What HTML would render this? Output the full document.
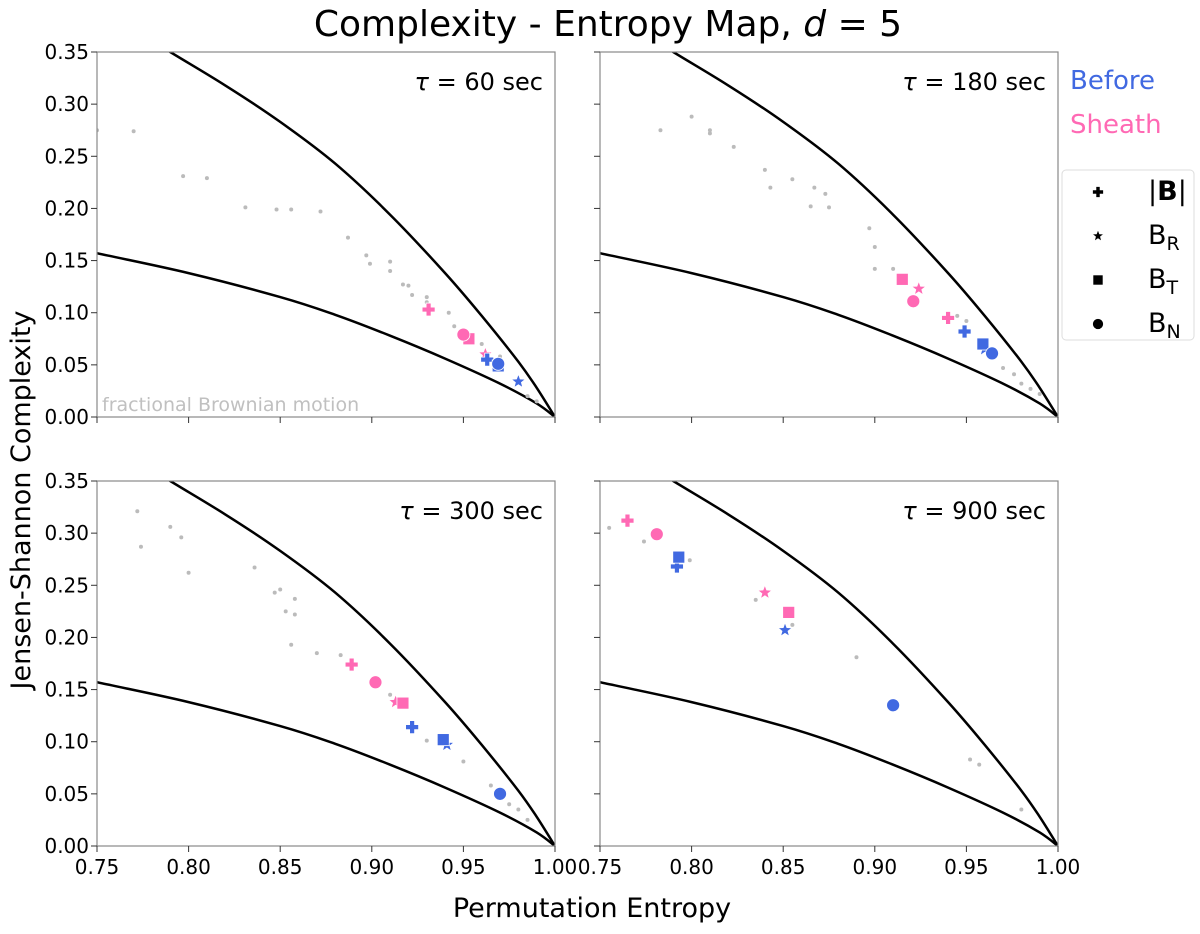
<!DOCTYPE html>
<html><head><meta charset="utf-8">
<style>
body{margin:0;background:#fff;}
svg text{font-family:"DejaVu Sans","Liberation Sans",sans-serif;}
</style></head>
<body>
<svg id="chart" width="1200" height="929" xmlns="http://www.w3.org/2000/svg">
<text x="608" y="36" font-size="36" text-anchor="middle">Complexity - Entropy Map, <tspan font-style="italic">d</tspan> = 5</text>
<text transform="translate(30,500) rotate(-90)" font-size="27" text-anchor="middle">Jensen-Shannon Complexity</text>
<text x="592" y="917" font-size="27" text-anchor="middle">Permutation Entropy</text>
<text x="1070" y="89" font-size="26" fill="#4169e1">Before</text>
<text x="1070" y="133" font-size="26" fill="#ff69b4">Sheath</text>
<g>
<rect x="1062" y="170" width="132" height="170" rx="4" fill="#fff" stroke="#ddd"/>
<g id="legmarks"></g>
<text x="1148" y="200" font-size="27">|<tspan font-weight="bold">B</tspan>|</text>
<text x="1148" y="244" font-size="27">B<tspan font-size="19" dy="6">R</tspan></text>
<text x="1148" y="288" font-size="27">B<tspan font-size="19" dy="6">T</tspan></text>
<text x="1148" y="332" font-size="27">B<tspan font-size="19" dy="6">N</tspan></text>
</g>
<g id="panels"></g>
</svg>
<script>
const xTicks=[0.75,0.80,0.85,0.90,0.95,1.00];
const yTicks=[0,0.05,0.10,0.15,0.20,0.25,0.30,0.35];
const upperH=[0.77,0.79,0.82,0.85,0.88,0.91,0.94,0.96,0.98,0.99,1.0];
const upperC=[0.372,0.35,0.318,0.283,0.243,0.194,0.138,0.097,0.053,0.028,0];
const lowerH=[0.75,0.80,0.85,0.88,0.91,0.94,0.97,0.99,1.0];
const lowerC=[0.157,0.138,0.115,0.098,0.078,0.056,0.032,0.013,0];
const tauLabels=["60","180","300","900"];
const gray1H=[.75,.77,.797,.81,.831,.848,.856,.872,.887,.897,.899,.91,.91,.917,.92,.922,.93,.93,.942,.945,.952,.96,.97,.985,.99];
const gray1C=[.275,.274,.231,.229,.201,.199,.199,.197,.172,.155,.147,.149,.14,.127,.126,.117,.115,.11,.1,.087,.075,.07,.058,.02,.015];
const gray2H=[.783,.80,.81,.81,.823,.84,.843,.855,.865,.867,.873,.875,.897,.9,.9,.91,.945,.95,.97,.976,.98,.985,.99];
const gray2C=[.275,.288,.272,.275,.259,.237,.22,.228,.202,.22,.214,.201,.181,.163,.142,.142,.097,.092,.047,.041,.032,.027,.022];
const gray3H=[.772,.774,.79,.796,.8,.836,.847,.85,.853,.858,.858,.856,.87,.883,.91,.93,.95,.965,.975,.98,.985];
const gray3C=[.321,.287,.306,.296,.262,.267,.243,.246,.225,.237,.222,.193,.185,.183,.145,.101,.081,.058,.04,.035,.025];
const gray4H=[.755,.774,.799,.835,.855,.89,.952,.957,.98];
const gray4C=[.305,.292,.274,.236,.212,.181,.083,.078,.035];
// order: plus, star, square, circle
const before1H=[.963,.980,.969,.969], before1C=[.055,.034,.049,.051];
const sheath1H=[.931,.962,.953,.950], sheath1C=[.103,.060,.075,.079];
const before2H=[.949,.960,.959,.964], before2C=[.082,.065,.070,.061];
const sheath2H=[.940,.924,.915,.921], sheath2C=[.095,.123,.132,.111];
const before3H=[.922,.941,.939,.970], before3C=[.114,.097,.102,.050];
const sheath3H=[.889,.913,.917,.902], sheath3C=[.174,.138,.137,.157];
const before4H=[.792,.851,.793,.910], before4C=[.268,.207,.277,.135];
const sheath4H=[.765,.840,.853,.781], sheath4C=[.312,.243,.224,.299];

const grays=[[gray1H,gray1C],[gray2H,gray2C],[gray3H,gray3C],[gray4H,gray4C]];
const befores=[[before1H,before1C],[before2H,before2C],[before3H,before3C],[before4H,before4C]];
const sheaths=[[sheath1H,sheath1C],[sheath2H,sheath2C],[sheath3H,sheath3C],[sheath4H,sheath4C]];
const markerNames=["plus","star","square","circle"];
const NS="http://www.w3.org/2000/svg";
const panelsG=document.getElementById('panels');
const boxes=[[97,52],[600,52],[97,481],[600,481]];
const W=458,H=365;
function mk(tag,attrs,parent){const e=document.createElementNS(NS,tag);for(const k in attrs)e.setAttribute(k,attrs[k]);parent.appendChild(e);return e;}
function smooth(pts){let d=`M${pts[0][0]},${pts[0][1]}`;for(let i=0;i<pts.length-1;i++){const p0=pts[Math.max(0,i-1)],p1=pts[i],p2=pts[i+1],p3=pts[Math.min(pts.length-1,i+2)];
  const c1x=p1[0]+(p2[0]-p0[0])/6,c1y=p1[1]+(p2[1]-p0[1])/6,c2x=p2[0]-(p3[0]-p1[0])/6,c2y=p2[1]-(p3[1]-p1[1])/6;
  d+=` C${c1x.toFixed(1)},${c1y.toFixed(1)} ${c2x.toFixed(1)},${c2y.toFixed(1)} ${p2[0].toFixed(1)},${p2[1].toFixed(1)}`;}return d;}
function starPts(cx,cy,R){let p=[];for(let i=0;i<10;i++){const r=i%2?R*0.42:R;const a=-Math.PI/2+i*Math.PI/5;p.push((cx+r*Math.cos(a)).toFixed(1)+","+(cy+r*Math.sin(a)).toFixed(1));}return p.join(" ");}
function marker(type,cx,cy,color,parent,s){
  s=s||1;let e;
  if(type==="plus"){e=mk('path',{d:`M${cx-2.5*s},${cy-6.5*s}h${5*s}v${4*s}h${4*s}v${5*s}h${-4*s}v${4*s}h${-5*s}v${-4*s}h${-4*s}v${-5*s}h${4*s}z`,fill:color,stroke:'#fff','stroke-width':0.8},parent);}
  else if(type==="star"){e=mk('polygon',{points:starPts(cx,cy,7.5*s),fill:color,stroke:'#fff','stroke-width':0.8},parent);}
  else if(type==="square"){e=mk('rect',{x:cx-6*s,y:cy-6*s,width:12*s,height:12*s,fill:color,stroke:'#fff','stroke-width':0.8},parent);}
  else {e=mk('circle',{cx:cx,cy:cy,r:6.5*s,fill:color,stroke:'#fff','stroke-width':0.8},parent);}
  return e;
}
boxes.forEach((b,pi)=>{
  const [x0,y0]=b;
  const g=mk('g',{},panelsG);
  
  
  const sx=v=>x0+(v-0.75)/0.25*W, sy=v=>y0+H-(v/0.35)*H;
  const cp='clip'+pi;
  const cl=mk('clipPath',{id:cp},g);mk('rect',{x:x0,y:y0,width:W,height:H},cl);
  const inner=mk('g',{'clip-path':`url(#${cp})`},g);
  if(pi===0){const t=mk('text',{x:x0+5,y:y0+H-6,'font-size':19,fill:'#c0c0c0'},g);t.textContent='fractional Brownian motion';}
  const up=mk('path',{d:smooth(upperH.map((h,i)=>[sx(h),sy(upperC[i])])),fill:'none',stroke:'#000','stroke-width':2.5},inner);
  
  
  const lo=mk('path',{d:smooth(lowerH.map((h,i)=>[sx(h),sy(lowerC[i])])),fill:'none',stroke:'#000','stroke-width':2.5},inner);
  
  
  const [gh,gc]=grays[pi];
  gh.forEach((h,i)=>{const d=mk('circle',{cx:sx(h),cy:sy(gc[i]),r:2,fill:'#bbb'},inner);
    
    });
  [[sheaths[pi],'#ff69b4','sheath'],[befores[pi],'#4169e1','before']].forEach(([ser,col,nm])=>{
    ser[0].forEach((h,i)=>{const m=marker(markerNames[i],sx(h),sy(ser[1][i]),col,inner);
      
      });
  });
  mk('rect',{x:x0,y:y0,width:W,height:H,fill:'none',stroke:'#888','stroke-width':1.2},g);
  xTicks.forEach(t=>{mk('line',{x1:sx(t),x2:sx(t),y1:y0+H,y2:y0+H+6,stroke:'#333','stroke-width':1},g);
    if(pi>=2){const tx=mk('text',{x:sx(t),y:y0+H+28,'font-size':20,'text-anchor':'middle'},g);tx.textContent=t.toFixed(2);
      }});
  yTicks.forEach(t=>{mk('line',{x1:x0-6,x2:x0,y1:sy(t),y2:sy(t),stroke:'#333','stroke-width':1},g);
    if(pi%2===0){const tx=mk('text',{x:x0-8,y:sy(t)+7,'font-size':20,'text-anchor':'end'},g);tx.textContent=t.toFixed(2);
      }});
  const tl=mk('text',{x:x0+W-12,y:y0+38,'font-size':24,'text-anchor':'end'},g);
  tl.innerHTML='<tspan font-style="italic">τ</tspan> = '+tauLabels[pi]+' sec';
  
  
});
const lm=document.getElementById('legmarks');
markerNames.forEach((n,i)=>{const m=marker(n,1098,192+i*44,'#000',lm,0.85);
  
  });
</script>
</body></html>
